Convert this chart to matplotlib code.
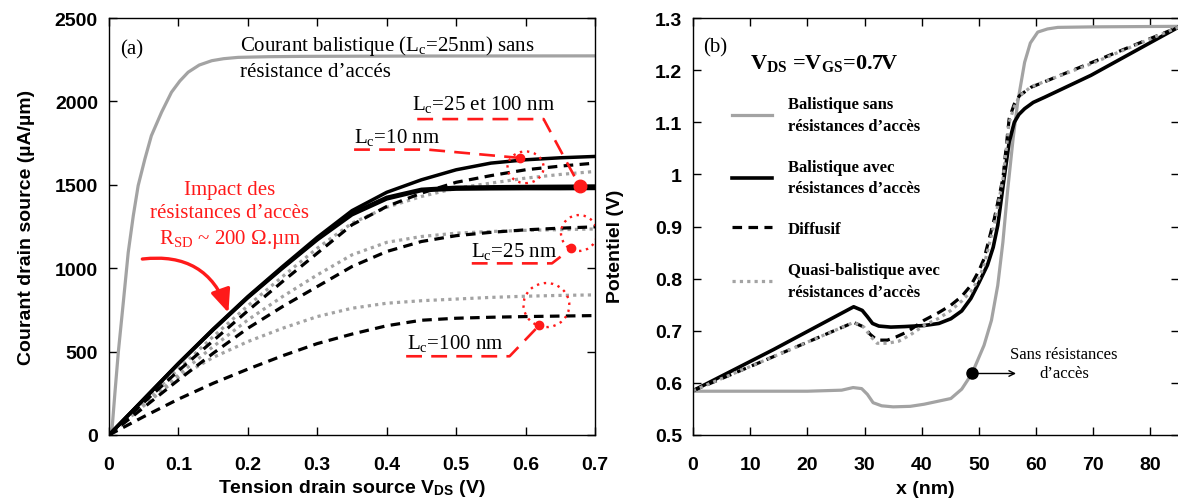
import numpy as np
import matplotlib
matplotlib.use("Agg")
import matplotlib.pyplot as plt
from matplotlib.patches import Ellipse, FancyArrowPatch
from matplotlib.ticker import FormatStrFormatter

# ---- (a) courant drain source vs tension drain source ----
vds = [0, 0.05, 0.1, 0.15, 0.2, 0.25, 0.3, 0.35, 0.4, 0.45, 0.5, 0.55, 0.6, 0.65, 0.7]

vds_sans_rsd = [0, 0.004, 0.0086, 0.0134, 0.0206, 0.0277, 0.035, 0.042, 0.0517, 0.061,
                0.0757, 0.09, 0.102, 0.114, 0.13, 0.148, 0.165, 0.186, 0.23, 0.28, 0.45, 0.7]
id_sans_rsd = [0, 16, 256, 496, 795, 1095, 1315, 1495, 1655, 1794, 1935, 2055, 2122,
               2175, 2218, 2244, 2256, 2264, 2268, 2270, 2272, 2273]

# balistique avec resistances d'acces
id_bal_10 = [0, 215, 430, 635, 830, 1010, 1185, 1345, 1455, 1530, 1590, 1630, 1650, 1662, 1670]
id_bal_25 = [0, 214, 428, 632, 826, 1004, 1175, 1330, 1425, 1473, 1485, 1488, 1490, 1491, 1492]
id_bal_100 = [0, 213, 426, 630, 823, 1000, 1170, 1320, 1415, 1465, 1474, 1476, 1477, 1477, 1478]

# diffusif
id_dif_10 = [0, 195, 385, 565, 745, 920, 1090, 1260, 1370, 1450, 1515, 1555, 1590, 1612, 1630]
id_dif_25 = [0, 165, 330, 490, 640, 770, 890, 1010, 1100, 1160, 1195, 1215, 1230, 1240, 1248]
id_dif_100 = [0, 110, 215, 310, 395, 475, 548, 605, 655, 688, 700, 706, 710, 713, 716]

# quasi-balistique avec resistances d'acces
id_qb_10 = [0, 200, 395, 590, 775, 950, 1120, 1270, 1365, 1430, 1480, 1510, 1540, 1562, 1580]
id_qb_25 = [0, 180, 360, 530, 690, 830, 960, 1080, 1155, 1190, 1210, 1220, 1227, 1231, 1235]
id_qb_100 = [0, 175, 345, 465, 560, 640, 710, 760, 790, 805, 815, 825, 832, 837, 840]

# ---- (b) potentiel le long du canal ----
x_sans_rsd = [0, 10, 20, 26, 28, 29.5, 30.5, 31.5, 33, 35, 38, 40.4, 45.1, 47, 48.8, 50.9,
              52.2, 53.3, 54.2, 55.0, 56.0, 56.8, 58.0, 59.0, 60.3, 62, 63.8, 70, 85]
v_sans_rsd = [0.584, 0.584, 0.584, 0.586, 0.591, 0.589, 0.578, 0.562, 0.556, 0.554, 0.555,
              0.559, 0.570, 0.588, 0.618, 0.672, 0.72, 0.787, 0.87, 0.966, 1.07, 1.139,
              1.215, 1.252, 1.273, 1.279, 1.282, 1.283, 1.284]

x_bal = [0, 14.1, 28.1, 29.6, 30.5, 31.4, 32.5, 34.6, 37, 40.4, 43, 45.1, 47, 48.6, 50,
         51.5, 52.5, 53.3, 54.4, 55.3, 56.2, 57, 58, 59.5, 61.5, 69.6, 85]
v_bal = [0.585, 0.664, 0.746, 0.739, 0.727, 0.714, 0.709, 0.707, 0.708, 0.710, 0.714,
         0.723, 0.738, 0.762, 0.792, 0.826, 0.86, 0.902, 0.992, 1.062, 1.100, 1.115,
         1.126, 1.138, 1.148, 1.190, 1.283]

x_dif = [0, 14, 28.1, 29.9, 31, 32.2, 34.0, 35.5, 37.5, 40.4, 43, 45.1, 47, 48.6, 50,
         50.9, 52.7, 54.2, 55.3, 56.2, 57.1, 59.1, 69.6, 85]
v_dif = [0.585, 0.650, 0.716, 0.707, 0.693, 0.682, 0.682, 0.688, 0.698, 0.720, 0.735,
         0.749, 0.766, 0.787, 0.815, 0.838, 0.915, 0.992, 1.107, 1.135, 1.151, 1.167,
         1.214, 1.283]

x_qb = [0, 14, 28.1, 29.9, 31, 32.2, 34.0, 36, 38, 40.4, 43, 45.1, 47, 48.6, 50, 50.9,
        52.7, 54.2, 55.3, 56.2, 57.1, 59.1, 69.6, 85]
v_qb = [0.585, 0.650, 0.716, 0.707, 0.690, 0.676, 0.676, 0.680, 0.692, 0.710, 0.724,
        0.739, 0.757, 0.775, 0.800, 0.826, 0.905, 0.99, 1.10, 1.13, 1.15, 1.168, 1.212,
        1.283]

x_marque = 48.8

GRIS = "#a3a3a3"
ROUGE = "#ff1a1a"
SERIF = "Liberation Serif"
SANS = "Liberation Sans"
FS_ANN = 15

plt.rcParams["mathtext.fontset"] = "custom"
plt.rcParams["mathtext.rm"] = SERIF
plt.rcParams["mathtext.it"] = SERIF + ":italic"
plt.rcParams["mathtext.bf"] = SERIF + ":bold"
plt.rcParams["mathtext.sf"] = SANS + ":bold"

DASH = (0, (3, 2))
DOT = (0, (1, 1.3))
RDASH = (0, (6, 3.5))


def style_axes(ax):
    for s in ax.spines.values():
        s.set_linewidth(1.0)
    ax.tick_params(direction="in", length=6, width=1, top=True, right=True,
                   labelsize=14)
    ax.tick_params(axis="x", pad=15)
    ax.tick_params(axis="y", pad=8)
    for lab in ax.get_xticklabels() + ax.get_yticklabels():
        lab.set_fontfamily(SANS)
        lab.set_fontweight("bold")


def red_leader(ax, pts, dot):
    xs = [p[0] for p in pts] + [dot[0]]
    ys = [p[1] for p in pts] + [dot[1]]
    ax.plot(xs, ys, color=ROUGE, lw=1.9, linestyle=RDASH, zorder=5)


def panel_a(ax):
    lw = 2.3
    ax.plot(vds_sans_rsd, id_sans_rsd, color=GRIS, lw=lw)
    for ids in (id_qb_10, id_qb_25, id_qb_100):
        ax.plot(vds, ids, color=GRIS, lw=lw, linestyle=DOT)
    for ids in (id_dif_10, id_dif_25, id_dif_100):
        ax.plot(vds, ids, color="black", lw=lw, linestyle=DASH)
    for ids in (id_bal_10, id_bal_25, id_bal_100):
        ax.plot(vds, ids, color="black", lw=2.5)

    ax.set_xlim(0, 0.7)
    ax.set_ylim(0, 2500)
    ax.set_xticks(np.arange(0, 0.71, 0.1))
    ax.set_yticks(np.arange(0, 2501, 500))
    ax.xaxis.set_major_formatter(FormatStrFormatter("%g"))
    style_axes(ax)
    ax.set_xlabel(r"Tension drain source V$_\mathsf{DS}$ (V)", fontsize=14,
                  fontfamily=SANS, fontweight="bold", labelpad=3)
    ax.set_ylabel("Courant drain source (µA/µm)", fontsize=14, fontfamily=SANS,
                  fontweight="bold", labelpad=14)

    ax.text(0.016, 2314, "(a)", fontsize=FS_ANN, fontfamily=SERIF, va="center")
    ax.text(0.188, 2264, "Courant balistique (L$_\\mathrm{c}$=25nm) sans\nrésistance d\u2019accés",
            fontsize=FS_ANN, fontfamily=SERIF, va="center", linespacing=1.35)

    ax.text(0.174, 1320, "Impact des\nrésistances d\u2019accès\nR$_\\mathrm{SD}$ ~ 200 Ω.µm",
            fontsize=FS_ANN, fontfamily=SERIF, color=ROUGE, ha="center", va="center",
            linespacing=1.3)
    arr = FancyArrowPatch((0.048, 1055), (0.172, 733), connectionstyle="arc3,rad=-0.4",
                          arrowstyle="-|>,head_length=14,head_width=6", color=ROUGE,
                          lw=2.4, mutation_scale=1, shrinkA=0, shrinkB=0, zorder=6)
    ax.add_patch(arr)

    # Lc=25 et 100 nm
    ax.text(0.540, 1990, "L$_\\mathrm{c}$=25 et 100 nm", fontsize=FS_ANN, fontfamily=SERIF,
            ha="center", va="center")
    d25 = (0.678, np.interp(0.678, vds, id_bal_25))
    red_leader(ax, [(0.444, 1894), (0.626, 1894)], d25)
    ax.plot(*d25, "o", color=ROUGE, ms=9, zorder=7)

    # Lc=10 nm
    ax.text(0.353, 1787, "L$_\\mathrm{c}$=10 nm", fontsize=FS_ANN, fontfamily=SERIF,
            ha="left", va="center")
    d10 = (0.592, 1661)
    red_leader(ax, [(0.353, 1711), (0.459, 1711)], d10)
    ax.plot(*d10, "o", color=ROUGE, ms=6, zorder=7)
    ax.add_patch(Ellipse((0.600, 1605), 0.052, 190, fill=False, ec=ROUGE, lw=1.7,
                         linestyle=(0, (1, 2)), zorder=6))

    # Lc=25 nm
    ax.text(0.583, 1105, "L$_\\mathrm{c}$=25 nm", fontsize=FS_ANN, fontfamily=SERIF,
            ha="center", va="center")
    d = (0.666, 1119)
    red_leader(ax, [(0.5225, 1029), (0.638, 1029)], d)
    ax.plot(*d, "o", color=ROUGE, ms=6, zorder=7)
    ax.add_patch(Ellipse((0.677, 1211), 0.052, 215, fill=False, ec=ROUGE, lw=1.7,
                         linestyle=(0, (1, 2)), zorder=6))

    # Lc=100 nm
    ax.text(0.499, 556, "L$_\\mathrm{c}$=100 nm", fontsize=FS_ANN, fontfamily=SERIF,
            ha="center", va="center")
    d = (0.620, 659)
    red_leader(ax, [(0.428, 472), (0.577, 472)], d)
    ax.plot(*d, "o", color=ROUGE, ms=6, zorder=7)
    ax.add_patch(Ellipse((0.630, 779), 0.066, 264, fill=False, ec=ROUGE, lw=1.7,
                         linestyle=(0, (1, 2)), zorder=6))


def panel_b(ax):
    h1, = ax.plot(x_sans_rsd, v_sans_rsd, color=GRIS, lw=2.3)
    h2, = ax.plot(x_bal, v_bal, color="black", lw=2.6)
    h3, = ax.plot(x_dif, v_dif, color="black", lw=2.3, linestyle=DASH)
    h4, = ax.plot(x_qb, v_qb, color=GRIS, lw=2.3, linestyle=DOT)

    ax.set_xlim(0, 85)
    ax.set_ylim(0.5, 1.3)
    ax.set_xticks(np.arange(0, 81, 10))
    ax.set_yticks(np.arange(0.5, 1.31, 0.1))
    ax.yaxis.set_major_formatter(FormatStrFormatter("%g"))
    style_axes(ax)
    ax.set_xlabel("x (nm)", fontsize=14, fontfamily=SANS, fontweight="bold")
    ax.set_ylabel("Potentiel (V)", fontsize=14, fontfamily=SANS, fontweight="bold")
    ax.xaxis.set_label_coords(0.479, -0.108)
    ax.yaxis.set_label_coords(-0.142, 0.455)

    ax.text(1.75, 1.244, "(b)", fontsize=FS_ANN, fontfamily=SERIF, va="center")
    ax.text(10.0, 1.214, r"V$_\mathbf{DS}$ =V$_\mathbf{GS}$=0.7V", fontsize=16,
            fontfamily=SERIF, fontweight="bold", va="center")

    leg = ax.legend([h1, h2, h3, h4],
                    ["Balistique sans\nrésistances d\u2019accès",
                     "Balistique avec\nrésistances d\u2019accès",
                     "Diffusif",
                     "Quasi-balistique avec\nrésistances d\u2019accès"],
                    loc="upper left", bbox_to_anchor=(0.080, 0.812), frameon=False,
                    prop={"family": SERIF, "weight": "bold", "size": 12},
                    handlelength=2.4, handletextpad=0.96, labelspacing=1.5,
                    borderpad=0, borderaxespad=0)
    for t in leg.get_texts():
        t.set_linespacing(1.45)

    ym = np.interp(x_marque, x_sans_rsd, v_sans_rsd)
    ax.plot(x_marque, ym, "o", color="black", ms=8, zorder=7)
    ax.annotate("", xy=(56.5, ym), xytext=(x_marque, ym),
                arrowprops=dict(arrowstyle="->", color="black", lw=1.0,
                                shrinkA=0, shrinkB=0))
    ax.text(64.9, 0.637, "Sans résistances\nd\u2019accès", fontsize=12, fontfamily=SERIF,
            ha="center", va="center", linespacing=1.25)


def main():
    fig = plt.figure(figsize=(11.78, 5.02), dpi=100)
    ax1 = fig.add_axes([109 / 1178, 66 / 502, 486 / 1178, 417 / 502])
    ax2 = fig.add_axes([693 / 1178, 66 / 502, 486 / 1178, 417 / 502])
    panel_a(ax1)
    panel_b(ax2)
    fig.savefig("out.png", dpi=100)


if __name__ == "__main__":
    main()
